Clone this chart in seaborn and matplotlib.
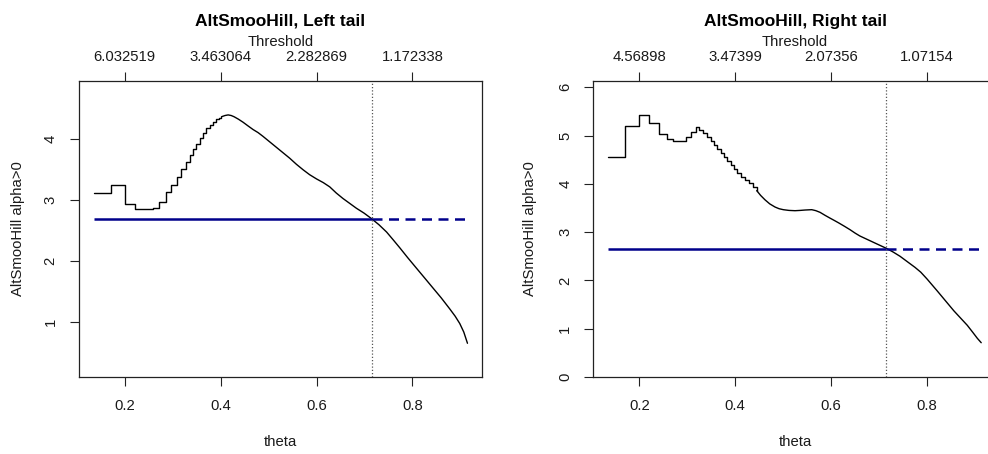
import matplotlib
matplotlib.use("Agg")
import matplotlib.pyplot as plt
import numpy as np
import pandas as pd
import seaborn as sns

sns.set_theme(style="ticks")
plt.rcParams["font.family"] = ["Liberation Sans", "DejaVu Sans"]

# ---- shared axis settings ----
theta_ticks = [0.2, 0.4, 0.6, 0.8]

# ---- left tail ----
left_title = "AltSmooHill, Left tail"
left_threshold_labels = ["6.032519", "3.463064", "2.282869", "1.172338"]
left_step_theta = [0.135, 0.172, 0.201, 0.222, 0.259, 0.271, 0.2855, 0.297,
                   0.308, 0.318, 0.327, 0.3355, 0.342, 0.349, 0.356, 0.363,
                   0.370, 0.377, 0.384, 0.391, 0.397, 0.4017]
left_step_alpha = [3.115, 3.256, 2.934, 2.862, 2.88, 2.977, 3.14, 3.25,
                   3.39, 3.52, 3.63, 3.74, 3.84, 3.93, 4.02, 4.10,
                   4.18, 4.23, 4.29, 4.33, 4.355, 4.37]
left_smooth_theta = [0.4017, 0.409, 0.4156, 0.422, 0.428, 0.437, 0.4467,
                     0.457, 0.4676, 0.478, 0.488, 0.502, 0.516, 0.530,
                     0.544, 0.558, 0.572, 0.5855, 0.600, 0.614, 0.6275,
                     0.641, 0.655, 0.669, 0.683, 0.699, 0.7145, 0.730,
                     0.746, 0.760, 0.7737, 0.790, 0.808, 0.825, 0.843,
                     0.860, 0.8777, 0.889, 0.8986, 0.907, 0.9147]
left_smooth_alpha = [4.37, 4.39, 4.40, 4.39, 4.37, 4.33, 4.28,
                     4.22, 4.16, 4.11, 4.05, 3.96, 3.87, 3.78,
                     3.69, 3.59, 3.50, 3.42, 3.35, 3.29, 3.22,
                     3.12, 3.03, 2.95, 2.87, 2.79, 2.70, 2.60,
                     2.48, 2.35, 2.22, 2.06, 1.89, 1.73, 1.56,
                     1.40, 1.22, 1.10, 0.98, 0.84, 0.656]
left_theta_opt = 0.715
left_alpha_hat = 2.69
left_yticks = [1, 2, 3, 4]
left_ylim = (0.103, 4.956)

# ---- right tail ----
right_title = "AltSmooHill, Right tail"
right_threshold_labels = ["4.56898", "3.47399", "2.07356", "1.07154"]
right_step_theta = [0.1353, 0.170, 0.200, 0.2209, 0.2405, 0.257, 0.271,
                    0.2968, 0.307, 0.3176, 0.325, 0.3335, 0.3418, 0.349,
                    0.3558, 0.3627, 0.370, 0.3766, 0.3835, 0.3906, 0.3975,
                    0.4044, 0.4127, 0.421, 0.4294, 0.4377, 0.4448]
right_step_alpha = [4.566, 5.207, 5.42, 5.27, 5.04, 4.93, 4.884,
                    4.98, 5.076, 5.17, 5.12, 5.05, 4.97, 4.88,
                    4.80, 4.72, 4.64, 4.55, 4.47, 4.39, 4.31,
                    4.22, 4.15, 4.08, 4.02, 3.93, 3.86]
right_smooth_theta = [0.4448, 0.453, 0.462, 0.472, 0.483, 0.4915, 0.5003,
                      0.512, 0.5247, 0.5356, 0.5456, 0.5596, 0.568, 0.5769,
                      0.587, 0.5977, 0.607, 0.616, 0.628, 0.6395, 0.650,
                      0.66, 0.674, 0.688, 0.701, 0.714, 0.729, 0.7437,
                      0.760, 0.775, 0.787, 0.800, 0.8215, 0.840, 0.856,
                      0.870, 0.884, 0.895, 0.905, 0.913]
right_smooth_alpha = [3.86, 3.76, 3.67, 3.585, 3.52, 3.485, 3.465,
                      3.45, 3.444, 3.45, 3.458, 3.465, 3.445, 3.41,
                      3.35, 3.29, 3.24, 3.19, 3.12, 3.05, 2.98,
                      2.92, 2.855, 2.79, 2.73, 2.67, 2.59, 2.50,
                      2.38, 2.27, 2.17, 2.03, 1.78, 1.56, 1.37,
                      1.22, 1.07, 0.93, 0.80, 0.71]
right_theta_opt = 0.714
right_alpha_hat = 2.657
right_yticks = [0, 1, 2, 3, 4, 5, 6]
right_ylim = (0.0, 6.13)

W, H = 988, 454
fig = plt.figure(figsize=(W / 100, H / 100), dpi=100)

FS = 10.7
TXT = "#1a1a1a"


def draw_panel(rect, title, thr_labels, st_t, st_a, sm_t, sm_a,
               theta_opt, alpha_hat, yticks, ylim, xlim, ylab_x):
    l, r, t, b = rect
    ax = fig.add_axes([l / W, 1 - b / H, (r - l) / W, (b - t) / H])

    steps = pd.DataFrame({"theta": st_t, "alpha": st_a})
    smooth = pd.DataFrame({"theta": sm_t, "alpha": sm_a})
    sns.lineplot(data=steps, x="theta", y="alpha", ax=ax, color="black",
                 lw=1.0, drawstyle="steps-post", estimator=None, sort=False)
    sns.lineplot(data=smooth, x="theta", y="alpha", ax=ax, color="black",
                 lw=1.0, estimator=None, sort=False)

    t_min = min(st_t)
    t_max = max(sm_t)
    ax.hlines(alpha_hat, t_min, theta_opt, color="#00008B", lw=1.8)
    ax.hlines(alpha_hat, theta_opt, t_max, color="#00008B", lw=1.8,
              linestyles=(0, (4.0, 2.6)))
    ax.axvline(theta_opt, color="#555555", lw=0.9, ls=(0, (1, 1.6)))

    ax.set_xlim(*xlim)
    ax.set_ylim(*ylim)
    ax.set_xticks(theta_ticks)
    ax.set_xticklabels([f"{v:.1f}" for v in theta_ticks])
    ax.set_yticks(yticks)
    ax.set_yticklabels([str(v) for v in yticks], rotation=90, va="center")

    for s in ax.spines.values():
        s.set_color("#222222")
        s.set_linewidth(0.9)
        s.set_visible(True)

    ax.tick_params(axis="x", direction="out", length=6.5, width=0.8,
                   colors="#222222", labelcolor=TXT, labelsize=FS, pad=9.4)
    ax.tick_params(axis="y", direction="out", length=6.5, width=0.8,
                   colors="#222222", labelcolor=TXT, labelsize=FS, pad=8.6)

    ax.set_xlabel("theta", fontsize=FS, color=TXT)
    ax.xaxis.label.set_va("top")
    ax.xaxis.set_label_coords(0.5, (b - 435.5) / (b - t))

    ax.set_ylabel("AltSmooHill alpha>0", fontsize=FS, color=TXT)
    ax.yaxis.set_label_coords((ylab_x - l) / (r - l), 0.5)

    top = ax.twiny()
    top.set_xlim(*xlim)
    top.set_xticks(theta_ticks)
    top.set_xticklabels(thr_labels)
    top.tick_params(axis="x", direction="out", length=6.5, width=0.8,
                    colors="#222222", labelcolor=TXT, labelsize=FS, pad=5.6)
    for s in top.spines.values():
        s.set_visible(False)
    top.set_xlabel("Threshold", fontsize=FS, color=TXT)
    top.xaxis.set_label_coords(0.5, (b - 45.9) / (b - t))

    ax.text(0.5, (b - 25.7) / (b - t), title, transform=ax.transAxes,
            ha="center", va="baseline", fontsize=12.5, fontweight="bold",
            color="black")
    return ax


draw_panel((78.5, 482, 81, 377), left_title, left_threshold_labels,
           left_step_theta, left_step_alpha, left_smooth_theta,
           left_smooth_alpha, left_theta_opt, left_alpha_hat,
           left_yticks, left_ylim, (0.1035, 0.945), 25.2)

draw_panel((593.3, 996.8, 81, 377), right_title, right_threshold_labels,
           right_step_theta, right_step_alpha, right_smooth_theta,
           right_smooth_alpha, right_theta_opt, right_alpha_hat,
           right_yticks, right_ylim, (0.104, 0.9455), 537.0)

fig.savefig("out.png", dpi=100)
